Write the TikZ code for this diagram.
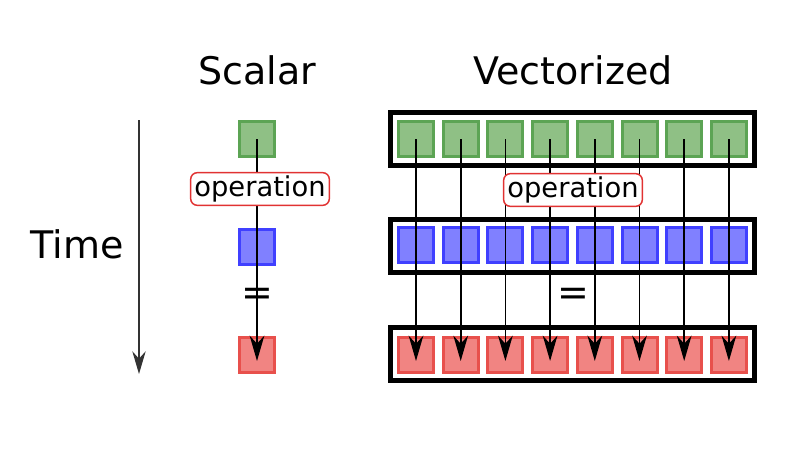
\documentclass[tikz,border=0pt]{standalone}
\usepackage{fontspec}
\setmainfont{DejaVu Sans}
\usetikzlibrary{arrows.meta}
\definecolor{gfill}{RGB}{143,192,133}
\definecolor{gdraw}{RGB}{92,164,84}
\definecolor{bfill}{RGB}{128,128,255}
\definecolor{bdraw}{RGB}{64,64,255}
\definecolor{rfill}{RGB}{241,132,130}
\definecolor{rdraw}{RGB}{232,80,76}
\definecolor{opred}{RGB}{225,50,50}
\tikzset{
  px/.style={x=0.75pt,y=-0.75pt},
  cell/.style={rectangle,minimum width=26.25pt,minimum height=26.25pt,inner sep=0pt,line width=2.25pt},
  gcell/.style={cell,fill=gfill,draw=gdraw},
  bcell/.style={cell,fill=bfill,draw=bdraw},
  rcell/.style={cell,fill=rfill,draw=rdraw},
  frame/.style={rectangle,draw=black,fill=white,line width=3.75pt,minimum width=273pt,minimum height=39.75pt,inner sep=0pt},
  opbox/.style={rectangle,rounded corners=5pt,draw=opred,fill=white,line width=1.1pt,inner sep=0pt,minimum width=104pt,minimum height=24.5pt,font=\fontsize{20.5}{23}\selectfont},
  big/.style={font=\fontsize{28.5}{34}\selectfont,inner sep=0pt},
  arr/.style={line width=1.2pt,-{Stealth[length=19pt,width=11pt,inset=6pt]}},
}
\begin{document}
\begin{tikzpicture}[px]
\useasboundingbox (0,0) rectangle (790,464);
% titles
\node[big] (tscalar) at (257,70) {Scalar};
\node[big] (tvec) at (573,70) {Vectorized};
\node[big] (ttime) at (77,244) {Time};
% time arrow
\coordinate (t0) at (139,120);
\coordinate (t1) at (139,374);
\draw[line width=1.1pt,draw=black!80,-{Stealth[length=17pt,width=10pt,inset=5.5pt]}] (t0) -- (t1);
% scalar
\node[gcell] (sg) at (257,139) {};
\node[bcell] (sb) at (257,247) {};
\node[rcell] (sr) at (257,355) {};
\node[big] (seq) at (257,297) {=};
\draw[arr] (sg.center) -- ([yshift=-4.5pt]sr.center);
\node[opbox] (sop) at (260,189) {operation};
% vectorized frames
\node[frame] (gbox) at (572.5,139) {};
\node[frame] (bbox) at (572.5,246) {};
\node[frame] (rbox) at (572.5,354) {};
\foreach \i in {0,...,7}{
  \pgfmathsetmacro{\xx}{416+44.7*\i}
  \node[gcell] (g\i) at (\xx,139) {};
  \node[bcell] (b\i) at (\xx,245) {};
  \node[rcell] (r\i) at (\xx,355) {};
}
\foreach \i in {0,...,7}{
  \draw[arr] (g\i.center) -- ([yshift=-4.5pt]r\i.center);
}
\node[big] (veq) at (573,297) {=};
\node[opbox] (vop) at (573,190) {operation};
\end{tikzpicture}
\end{document}
